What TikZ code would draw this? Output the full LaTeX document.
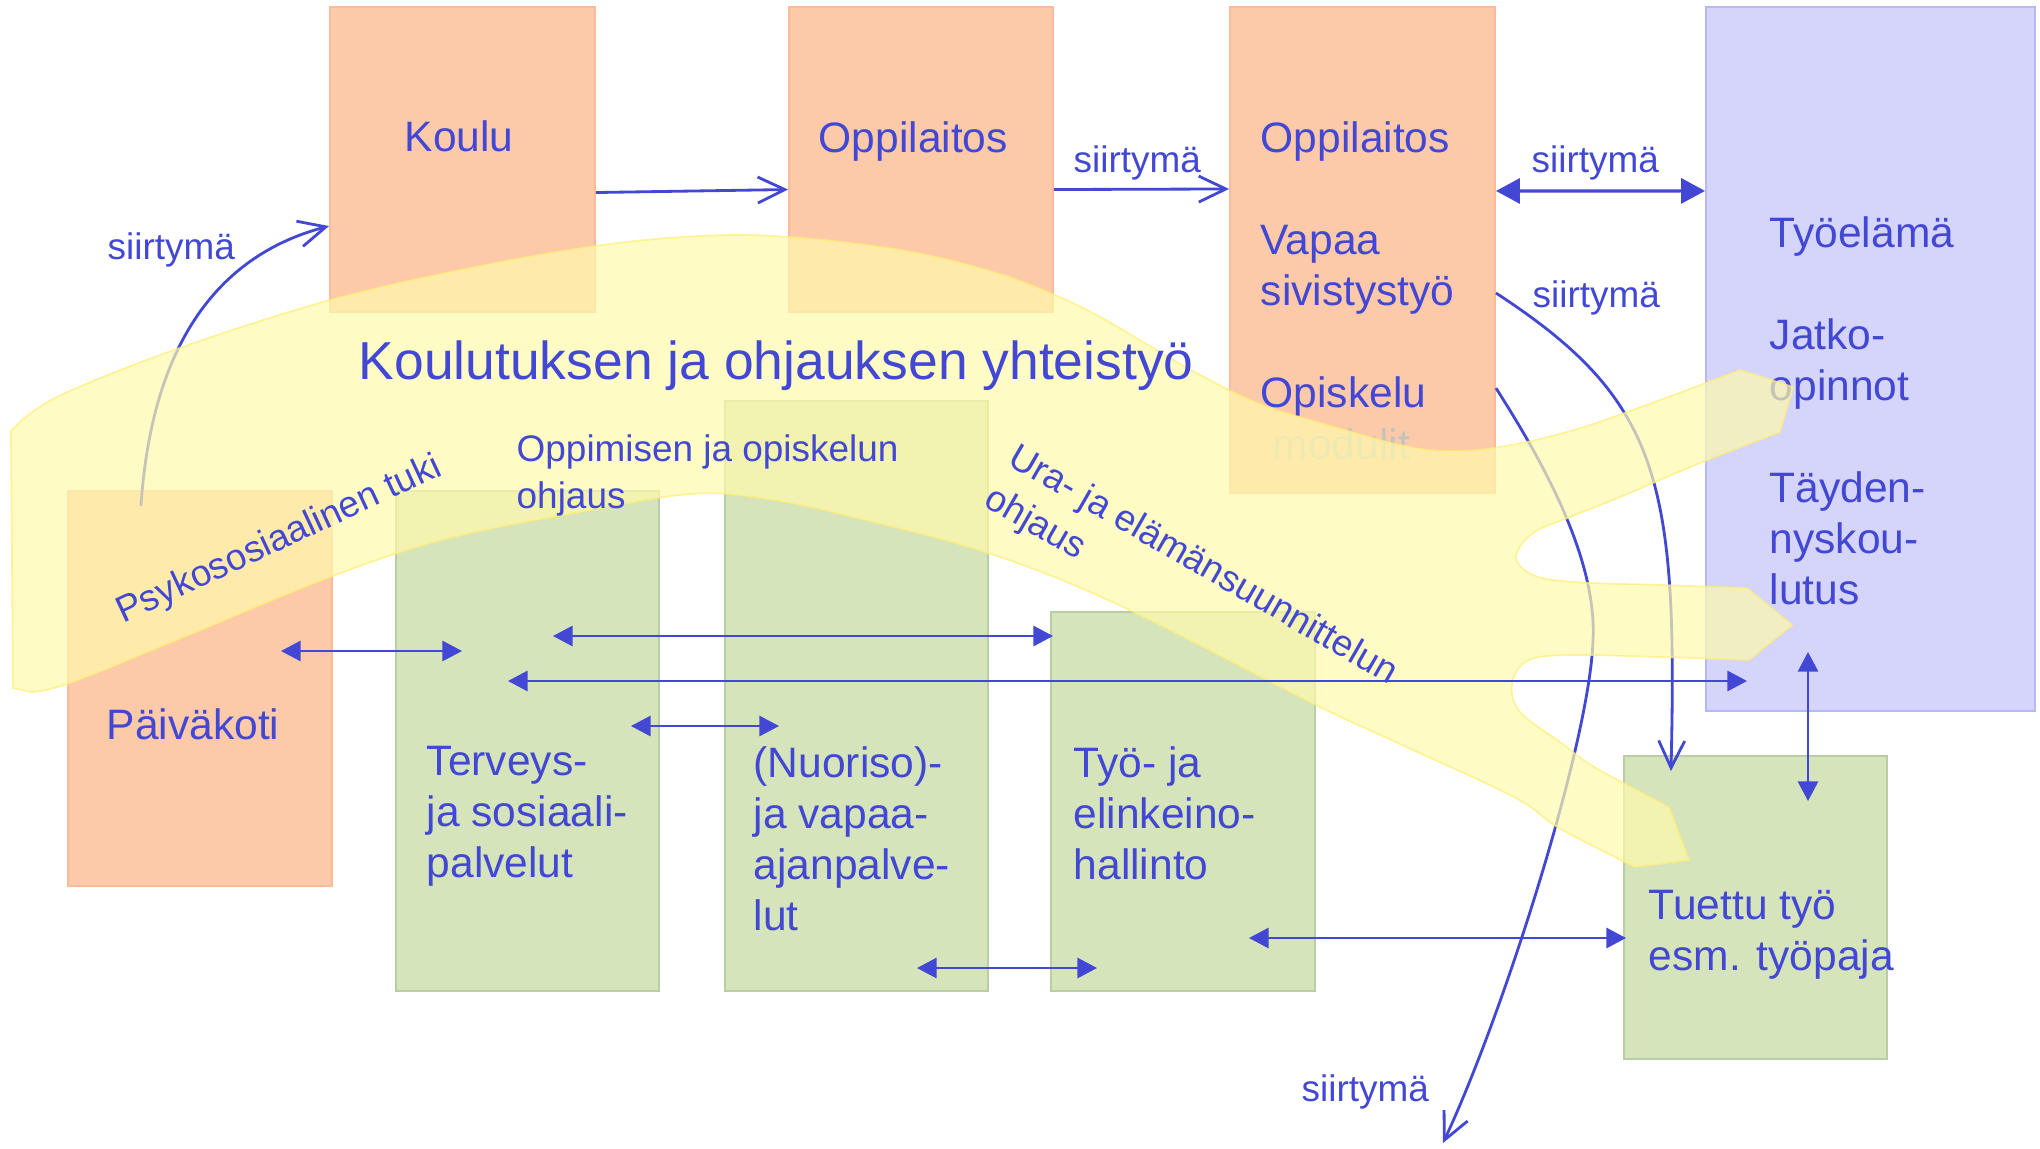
\documentclass[tikz,border=0pt]{standalone}
\usepackage{fontspec}
\setmainfont{Liberation Sans}
\usepackage{tikz}
\usetikzlibrary{arrows.meta}
\usetikzlibrary{positioning}

\definecolor{ink}{RGB}{66,72,212}
\definecolor{peach}{RGB}{252,201,169}
\definecolor{peachline}{RGB}{249,187,152}
\definecolor{sage}{RGB}{214,228,188}
\definecolor{sageline}{RGB}{184,206,164}
\definecolor{lilac}{RGB}{213,213,251}
\definecolor{lilacline}{RGB}{184,184,246}
\definecolor{lemon}{RGB}{255,250,172}
\definecolor{lemonline}{RGB}{255,238,120}
\definecolor{fade}{RGB}{196,196,188}

\begin{document}
\begin{tikzpicture}
      [x=0.01cm, y=-0.01cm,
       box/.style={rectangle, draw, line width=0.5pt, inner sep=0pt},
       school/.style={box, fill=peach, draw=peachline},
       service/.style={box, fill=sage, draw=sageline},
       work/.style={box, fill=lilac, draw=lilacline},
       boxtext/.style={anchor=north west, inner sep=0pt, align=left, text=ink,
         font=\fontsize{12.1}{14.5}\selectfont},
       small/.style={anchor=north west, inner sep=0pt, align=left, text=ink,
         font=\fontsize{10.5}{13.4}\selectfont},
       move/.style={draw=ink, line width=0.8pt, -{Straight Barb[length=7.7pt, width=7.4pt]}},
       pass/.style={draw=ink, line width=0.9pt,
         {Triangle[length=6.8pt, width=7.1pt]}-{Triangle[length=6.8pt, width=7.1pt]}},
       link/.style={draw=ink, line width=0.55pt,
         {Triangle[length=5.6pt, width=5.8pt]}-{Triangle[length=5.6pt, width=5.8pt]}},
       band/.style={fill=lemon, draw=lemonline, line width=0.5pt, opacity=0.7}]
      \useasboundingbox (0,0) rectangle (2040,1148);

      % boxes
      \node (koulu) [school, minimum width=2.65cm, minimum height=3.05cm] at (462.5,159.5) {};
      \node (oppilaitos) [school, minimum width=2.64cm, minimum height=3.05cm] at (921,159.5) {};
      \node (opisto) [school, minimum width=2.65cm, minimum height=4.86cm] at (1362.5,250) {};
      \node (tyoelama) [work, minimum width=3.29cm, minimum height=7.04cm] at (1870.5,359) {};
      \node (paivakoti) [school, minimum width=2.64cm, minimum height=3.95cm] at (200,688.5) {};
      \node (terveys) [service, minimum width=2.63cm, minimum height=5.00cm] at (527.5,741) {};
      \node (nuoriso) [service, minimum width=2.63cm, minimum height=5.90cm] at (856.5,696) {};
      \node (tyo) [service, minimum width=2.64cm, minimum height=3.79cm] at (1183,801.5) {};
      \node (tuettu) [service, minimum width=2.63cm, minimum height=3.03cm] at (1755.5,907.5) {};

      \node (koulu-t) [boxtext] at (404,120) {Koulu};
      \node (oppilaitos-t) [boxtext] at (818,121) {Oppilaitos};
      \node (opisto-t) [boxtext] at (1260,121)
        {Oppilaitos\\[14.5pt]Vapaa\\sivistystyö\\[14.5pt]Opiskelu};
      \node (moduli-t) [boxtext, text=fade] at (1272,428) {modulit};
      \node (tyoelama-t) [boxtext] at (1769,216)
        {Työelämä\\[14.5pt]Jatko-\\opinnot\\[14.5pt]Täyden-\\nyskou-\\lutus};
      \node (paivakoti-t) [boxtext] at (106,708) {Päiväkoti};
      \node (terveys-t) [boxtext] at (426,746) {Terveys-\\ja sosiaali-\\palvelut};
      \node (nuoriso-t) [boxtext] at (753,746) {(Nuoriso)-\\ja vapaa-\\ajanpalve-\\lut};
      \node (tyo-t) [boxtext] at (1073,746) {Työ- ja\\elinkeino-\\hallinto};
      \node (tuettu-t) [boxtext] at (1648,890) {Tuettu työ\\esm. työpaja};

      % transitions under the band
      \draw [move] ([xshift=-0.59cm, yshift=-0.16cm]paivakoti.north)
        .. controls (150,370) and (200,260) .. ([yshift=-0.665cm]koulu.west);
      \draw [move] ([yshift=-0.43cm]opisto.east)
        .. controls (1660,400) and (1678,480) .. ([xshift=-0.845cm, yshift=-0.16cm]tuettu.north);
      \coordinate (ulos) at (1443,1143);
      \draw [move] ([yshift=-1.38cm]opisto.east)
        .. controls (1545,465) and (1597,560) .. (1593,640)
        .. controls (1590,740) and (1505,1010) .. (ulos);

      % band
      \filldraw [band]
        plot [smooth, tension=0.6] coordinates {(11,431) (55,398) (174,350) (330,300)
          (470,268) (595,246) (700,236) (789,237) (901,250) (990,271) (1050,293)
          (1102,318) (1191,370) (1260,404) (1331,426) (1400,445) (1447,451)
          (1500,447) (1567,432) (1633,410) (1740,370)}
        -- (1793,387)
        -- plot [smooth, tension=0.6] coordinates {(1780,432) (1700,463) (1620,497)
          (1570,517) (1533,533) (1516,557) (1533,575) (1573,582) (1660,585) (1747,588)}
        -- (1792,625)
        -- plot [smooth, tension=0.6] coordinates {(1749,660) (1660,657) (1567,655)
          (1527,661) (1512,684) (1520,712) (1560,742) (1596,768) (1669,807)}
        -- (1689,860)
        -- plot [smooth, tension=0.6] coordinates {(1635,867) (1559,828) (1514,797)
          (1400,744) (1310,702) (1121,606) (988,553) (840,514) (760,498) (690,494)
          (580,512) (446,539) (330,577) (179,639) (70,683) (31,692)}
        -- (13,688) -- cycle;

      \node (yhteistyo) [boxtext, font=\fontsize{15.2}{18}\selectfont] at (358,340)
        {Koulutuksen ja ohjauksen yhteistyö};
      \node (oppiminen) [small] at (516,434) {Oppimisen ja opiskelun\\ohjaus};
      \node (psyko) [small, anchor=base west, rotate=25] at (123,624)
        {Psykososiaalinen tuki};
      \node (ura) [small, font=\fontsize{10.5}{13.6}\selectfont, rotate=-30] at (1020,440)
        {Ura- ja elämänsuunnittelun\\ohjaus};

      % links between services
      \coordinate (pk1) at (281,651);  \coordinate (tv1) at (462,651);
      \coordinate (tv2) at (553,636);  \coordinate (ty2) at (1053,636);
      \coordinate (tv3) at (508,681);  \coordinate (te3) at (1747,681);
      \coordinate (tv4) at (631,726);  \coordinate (nu4) at (779,726);
      \coordinate (nu5) at (917,968);  \coordinate (ty5) at (1097,968);
      \coordinate (ty6) at (1249,938); \coordinate (tu6) at (1626,938);
      \coordinate (te7) at (1808,652); \coordinate (tu7) at (1808,801);

      \draw [link] (pk1) -- (tv1);
      \draw [link] (tv2) -- (ty2);
      \draw [link] (tv3) -- (te3);
      \draw [link] (tv4) -- (nu4);
      \draw [link] (nu5) -- (ty5);
      \draw [link] (ty6) -- (tu6);
      \draw [link] (te7) -- (tu7);

      % transitions on top
      \draw [move] ([yshift=-0.33cm]koulu.east) -- ([yshift=-0.30cm]oppilaitos.west);
      \draw [move] ([yshift=-0.30cm]oppilaitos.east) -- ([yshift=0.61cm]opisto.west);
      \draw [pass] ([yshift=0.59cm]opisto.east) -- ([yshift=1.68cm]tyoelama.west);

      \node (siirtyma1) [small] at (107,232) {siirtymä};
      \node (siirtyma2) [small] at (1073,145) {siirtymä};
      \node (siirtyma3) [small] at (1531,145) {siirtymä};
      \node (siirtyma4) [small] at (1532,280) {siirtymä};
      \node (siirtyma5) [small] at (1301,1074) {siirtymä};

    \end{tikzpicture}
\end{document}
